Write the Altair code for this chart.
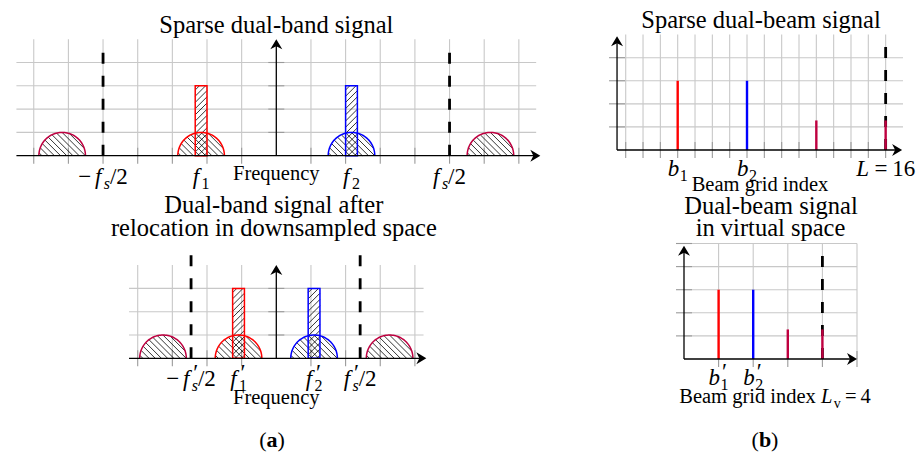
import math
import altair as alt
import pandas as pd

# ---------------- values (grid units) ----------------
# (a) upper panel: sparse dual-band signal
A1_GRID_X = [-7, -6, -5, -4, -3, -2, -1, 1, 2, 3, 4, 5, 6, 7]
A1_GRID_Y = [1, 2, 3, 4]
A1_BAND_CENTRES = [-2.17, 2.17]            # f1, f2
A1_BAND_SERIES = ["band 1", "band 2"]
A1_ALIAS_CENTRES = [-6.18, 6.18]
A1_NYQUIST = [-5.0, 5.0]                   # -fs/2, fs/2

# (a) lower panel: after relocation in downsampled space
A2_GRID_X = [-4, -3, -2, -1, 1, 2, 3, 4]
A2_GRID_Y = [1, 2, 3]
A2_BAND_CENTRES = [-1.09, 1.09]            # f1', f2'
A2_BAND_SERIES = ["band 1", "band 2"]
A2_ALIAS_CENTRES = [-3.27, 3.27]
A2_NYQUIST = [-2.46, 2.42]                 # -fs'/2, fs'/2

BAND_BAR_HEIGHT = 3.0
BAND_BAR_WIDTH = 0.34
LOBE_HEIGHT = 1.0

# (b) upper panel: sparse dual-beam signal, beam grid index 0..15
B1_GRID_X = list(range(16))
B1_GRID_Y = [1, 2, 3, 4]
B1_BEAM_INDEX = [3, 7, 11, 15]
B1_BEAM_AMPL = [3.0, 3.0, 1.28, 1.28]
B1_BEAM_SERIES = ["band 1", "band 2", "alias", "alias"]
B1_L = 15

# (b) lower panel: dual-beam signal in virtual space, L_v = 4
B2_GRID_X = [1, 2, 3, 4, 5]
B2_GRID_Y = [1, 2, 3, 4, 5]
B2_BEAM_INDEX = [1, 2, 3, 4]
B2_BEAM_AMPL = [3.0, 3.0, 1.28, 1.28]
B2_BEAM_SERIES = ["band 1", "band 2", "alias", "alias"]
B2_LV = 4

# ---------------- styles ----------------
SERIES_COLOUR = {"band 1": "#FF0000", "band 2": "#0000FF", "alias": "#BF0040"}
GRID_C = "#C8C8C8"
TICK_C = "#9A9A9A"
FONT = "Liberation Serif"
DASH = [11, 12]
HATCH_STEP = 6.2  # px
ARROW = "M0,0 L-2,-1.2 L-1.4,0 L-2,1.2 Z"
TITLE = 24.5
AX = 20.5
MATH = 23

# panel frames: width/height in px, origin of grid units and px per unit
GEOM = {
    "a1": dict(W=560, H=190, x0=276.3, sx=34.65, y0=155.7, sy=23.3),
    "a2": dict(W=560, H=267, x0=276.3, sx=34.65, y0=168.3, sy=23.3),
    "b1": dict(W=356, H=190, x0=65.7, sx=17.33, y0=150.0, sy=23.08),
    "b2": dict(W=356, H=267, x0=124.0, sx=34.6, y0=169.0, sy=23.1),
}
RIGHT_COL = 560  # px where the (b) column starts

CW = {
    "r": {"−": 0.72, "/": 0.278, "=": 0.564, "(": 0.333, ")": 0.333, "′": 0.3,
          "v": 0.5, "B": 0.667, "e": 0.444, "a": 0.444, "m": 0.778, " ": 0.25,
          "g": 0.5, "r": 0.333, "i": 0.278, "d": 0.5, "n": 0.5, "x": 0.5},
    "i": {"f": 0.36, "s": 0.389, "b": 0.5, "L": 0.6},
    "b": {"a": 0.5, "b": 0.556},
}


def tw(t, st):
    return sum(CW[st].get(c, 0.5) for c in t)


class Panel:
    def __init__(self, g, xoff=0):
        self.g = g
        self.xoff = xoff
        self.rules, self.hatch, self.lobes, self.bars = [], [], [], []
        self.sticks, self.dash, self.axes, self.arrows = [], [], [], []
        self.texts, self.ctexts = [], []
        self.nlobe = 0

    def du(self, px):
        return px / self.g["sx"]

    def dv(self, px):
        return px / self.g["sy"]

    def ux(self, px_abs):
        return (px_abs - self.xoff - self.g["x0"]) / self.g["sx"]

    def vy(self, py):
        return (self.g["y0"] - py) / self.g["sy"]

    def px(self, u):
        return self.xoff + self.g["x0"] + self.g["sx"] * u


def grid(p, xs, ys, x_lo, x_hi, top, yaxis_x):
    for x in xs:
        p.rules.append(dict(x=x, x2=x, y=0, y2=top, c=GRID_C, w=1.1))
    for y in ys:
        p.rules.append(dict(x=x_lo, x2=x_hi, y=y, y2=y, c=GRID_C, w=1.1))
    t, tu = p.dv(8), p.du(8)
    for x in xs:
        p.rules.append(dict(x=x, x2=x, y=-t, y2=t, c=TICK_C, w=1.1))
    for y in ys:
        p.rules.append(dict(x=yaxis_x - tu, x2=yaxis_x + tu, y=y, y2=y, c=TICK_C, w=1.1))


def axes(p, x_lo, x_tip, y_tip, yaxis_x):
    p.axes.append(dict(x=x_lo, x2=x_tip - p.du(3), y=0, y2=0))
    p.axes.append(dict(x=yaxis_x, x2=yaxis_x, y=0, y2=y_tip - p.dv(3)))
    p.arrows.append(dict(x=x_tip, y=0, a=0))
    p.arrows.append(dict(x=yaxis_x, y=y_tip, a=270))


def lobe(p, centre, series):
    r = p.g["sy"] * LOBE_HEIGHT          # radius in px (circular on screen)
    hw = r / p.g["sx"]
    p.nlobe += 1
    for i in range(61):
        th = math.pi * i / 60
        p.lobes.append(dict(x=centre + hw * math.cos(th), y=LOBE_HEIGHT * math.sin(th),
                            id=p.nlobe, i=i, c=SERIES_COLOUR[series]))
    # "\" hatching: in px, Y = d - X
    d = -r + HATCH_STEP * 0.5
    while d < r * math.sqrt(2):
        s = math.sqrt(max(2 * r * r - d * d, 0))
        X1 = (d - s) / 2
        X2 = d if d <= r else (d + s) / 2
        if X2 > X1:
            p.hatch.append(dict(x=centre + p.du(X1), x2=centre + p.du(X2),
                                y=p.dv(d - X1), y2=p.dv(d - X2)))
        d += HATCH_STEP


def bar(p, centre, series):
    xa, xb = centre - BAND_BAR_WIDTH / 2, centre + BAND_BAR_WIDTH / 2
    p.bars.append(dict(x=xa, x2=xb, y=0, y2=BAND_BAR_HEIGHT, c=SERIES_COLOUR[series]))
    W = (xb - xa) * p.g["sx"]
    H = BAND_BAR_HEIGHT * p.g["sy"]
    d = -W + HATCH_STEP * 0.5
    while d < H:
        Xa, Xb = max(0.0, -d), min(W, H - d)
        if Xb > Xa:
            p.hatch.append(dict(x=xa + p.du(Xa), x2=xa + p.du(Xb),
                                y=p.dv(Xa + d), y2=p.dv(Xb + d)))
        d += HATCH_STEP


def label(p, u, base_py, pieces, size=MATH):
    sub = round(size * 0.7)
    x, items = 0.0, []
    for k, (t, st, role) in enumerate(pieces):
        if role == "sp":
            x += float(t) * size
            continue
        fs = size if role == "n" else sub
        w = tw(t, st) * fs
        if role == "n":
            items.append((x, 0, t, fs, st))
            x += w
        elif role == "s":
            items.append((x + 0.5, 5, t, fs, st))
            x += w + 0.5
        elif role == "p":
            items.append((x + 2.0, -6, t, size, st))
            nxt = pieces[k + 1][2] if k + 1 < len(pieces) else None
            if nxt != "s":
                x += tw(t, st) * size + 2.0
    left = p.px(u) - x / 2
    for dx, dy, t, fs, st in items:
        p.texts.append(dict(x=p.ux(left + dx), y=p.vy(base_py + dy), t=t, s=fs, st=st))


def ctext(p, u, base_py, t, size):
    p.ctexts.append(dict(x=u, y=p.vy(base_py), t=t, s=size))


def build(p):
    g = p.g
    xs = alt.Scale(domain=[-g["x0"] / g["sx"], (g["W"] - g["x0"]) / g["sx"]], nice=False, zero=False)
    ys = alt.Scale(domain=[(g["y0"] - g["H"]) / g["sy"], g["y0"] / g["sy"]], nice=False, zero=False)

    def X(f):
        return alt.X(f, type="quantitative", scale=xs, axis=None)

    def Y(f):
        return alt.Y(f, type="quantitative", scale=ys, axis=None)

    L = []
    L.append(alt.Chart(pd.DataFrame(p.rules)).mark_rule(strokeCap="butt").encode(
        x=X("x"), x2="x2", y=Y("y"), y2="y2",
        color=alt.Color("c:N", scale=None), strokeWidth=alt.StrokeWidth("w:Q", scale=None)))
    if p.hatch:
        L.append(alt.Chart(pd.DataFrame(p.hatch)).mark_rule(color="black", strokeWidth=0.8).encode(
            x=X("x"), x2="x2", y=Y("y"), y2="y2"))
    if p.bars:
        L.append(alt.Chart(pd.DataFrame(p.bars)).mark_rect(fillOpacity=0, strokeWidth=1.5).encode(
            x=X("x"), x2="x2", y=Y("y"), y2="y2", stroke=alt.Stroke("c:N", scale=None)))
    if p.lobes:
        L.append(alt.Chart(pd.DataFrame(p.lobes)).mark_line(strokeWidth=1.5).encode(
            x=X("x"), y=Y("y"), detail="id:N", order="i:Q", color=alt.Color("c:N", scale=None)))
    L.append(alt.Chart(pd.DataFrame(p.dash)).mark_rule(color="black", strokeWidth=2.8,
                                                      strokeDash=DASH, strokeCap="butt").encode(
        x=X("x"), y=Y("y"), y2="y2"))
    if p.sticks:
        L.append(alt.Chart(pd.DataFrame(p.sticks)).mark_rule(strokeWidth=2.4, strokeCap="butt").encode(
            x=X("x"), y=Y("y"), y2="y2", color=alt.Color("c:N", scale=None)))
    L.append(alt.Chart(pd.DataFrame(p.axes)).mark_rule(color="black", strokeWidth=1.3).encode(
        x=X("x"), x2="x2", y=Y("y"), y2="y2"))
    L.append(alt.Chart(pd.DataFrame(p.arrows)).mark_point(
        shape=ARROW, filled=True, size=100, color="black", opacity=1, strokeWidth=0).encode(
        x=X("x"), y=Y("y"), angle=alt.Angle("a:Q", scale=None)))
    tdf = pd.DataFrame(p.texts)
    for st in ["r", "i", "b"]:
        sub = tdf[tdf["st"] == st] if len(tdf) else tdf
        if len(sub) == 0:
            continue
        kw = dict(align="left", baseline="alphabetic", font=FONT, color="black")
        if st == "i":
            kw["fontStyle"] = "italic"
        if st == "b":
            kw["fontWeight"] = "bold"
        L.append(alt.Chart(sub).mark_text(**kw).encode(
            x=X("x"), y=Y("y"), text="t:N", size=alt.Size("s:Q", scale=None)))
    if p.ctexts:
        L.append(alt.Chart(pd.DataFrame(p.ctexts)).mark_text(
            align="center", baseline="alphabetic", font=FONT, color="black").encode(
            x=X("x"), y=Y("y"), text="t:N", size=alt.Size("s:Q", scale=None)))
    return alt.layer(*L).properties(width=g["W"], height=g["H"])


# ---- (a) upper
a1 = Panel(GEOM["a1"])
grid(a1, A1_GRID_X, A1_GRID_Y, -7.5, 7.5, 5, 0)
for c in A1_ALIAS_CENTRES:
    lobe(a1, c, "alias")
for c, s in zip(A1_BAND_CENTRES, A1_BAND_SERIES):
    lobe(a1, c, s)
    bar(a1, c, s)
for n in A1_NYQUIST:
    a1.dash.append(dict(x=n, y=0, y2=4.75))
axes(a1, -7.5, 7.62, 5.0, 0)
label(a1, A1_NYQUIST[0], 184, [("−", "r", "n"), ("f", "i", "n"), ("s", "i", "s"), ("/2", "r", "n")])
label(a1, A1_BAND_CENTRES[0], 184, [("f", "i", "n"), ("1", "r", "s")])
label(a1, A1_BAND_CENTRES[1], 184, [("f", "i", "n"), ("2", "r", "s")])
label(a1, A1_NYQUIST[1], 184, [("f", "i", "n"), ("s", "i", "s"), ("/2", "r", "n")])
ctext(a1, 0, 180, "Frequency", AX)
ctext(a1, 0, 33.3, "Sparse dual-band signal", TITLE)

# ---- (a) lower
a2 = Panel(GEOM["a2"])
grid(a2, A2_GRID_X, A2_GRID_Y, -4.25, 4.25, 4, 0)
for c in A2_ALIAS_CENTRES:
    lobe(a2, c, "alias")
for c, s in zip(A2_BAND_CENTRES, A2_BAND_SERIES):
    lobe(a2, c, s)
    bar(a2, c, s)
for n in A2_NYQUIST:
    a2.dash.append(dict(x=n, y=0, y2=4.7))
axes(a2, -4.25, 4.33, 4.0, 0)
label(a2, A2_NYQUIST[0], 196, [("−", "r", "n"), ("f", "i", "n"), ("′", "r", "p"), ("s", "i", "s"), ("/2", "r", "n")])
label(a2, A2_BAND_CENTRES[0], 196, [("f", "i", "n"), ("′", "r", "p"), ("1", "r", "s")])
label(a2, A2_BAND_CENTRES[1], 196, [("f", "i", "n"), ("′", "r", "p"), ("2", "r", "s")])
label(a2, A2_NYQUIST[1], 196, [("f", "i", "n"), ("′", "r", "p"), ("s", "i", "s"), ("/2", "r", "n")])
ctext(a2, 0, 214.3, "Frequency", AX)
ctext(a2, -0.07, 23.3, "Dual-band signal after", TITLE)
ctext(a2, -0.07, 45.7, "relocation in downsampled space", TITLE)
label(a2, a2.ux(272), 257, [("(", "r", "n"), ("a", "b", "n"), (")", "r", "n")], size=22)

# ---- (b) upper
b1 = Panel(GEOM["b1"], RIGHT_COL)
grid(b1, B1_GRID_X, B1_GRID_Y, -0.5, 16, 5, -0.5)
b1.dash.append(dict(x=B1_L, y=0, y2=4.74))
for i, a, s in zip(B1_BEAM_INDEX, B1_BEAM_AMPL, B1_BEAM_SERIES):
    b1.sticks.append(dict(x=i, y=0, y2=a, c=SERIES_COLOUR[s]))
axes(b1, -0.5, 15.95, 4.93, -0.5)
label(b1, B1_BEAM_INDEX[0], 175.7, [("b", "i", "n"), ("1", "r", "s")])
label(b1, B1_BEAM_INDEX[1], 175.7, [("b", "i", "n"), ("2", "r", "s")])
label(b1, B1_L, 176, [("L", "i", "n"), ("0.2", "r", "sp"), ("=", "r", "n"), ("0.2", "r", "sp"), ("16", "r", "n")])
ctext(b1, b1.ux(760), 190.5, "Beam grid index", AX)
ctext(b1, b1.ux(761), 28.3, "Sparse dual-beam signal", TITLE)

# ---- (b) lower
b2 = Panel(GEOM["b2"], RIGHT_COL)
grid(b2, B2_GRID_X, B2_GRID_Y, 0, 5, 5, 0)
b2.dash.append(dict(x=B2_LV, y=0, y2=4.7))
for i, a, s in zip(B2_BEAM_INDEX, B2_BEAM_AMPL, B2_BEAM_SERIES):
    b2.sticks.append(dict(x=i, y=0, y2=a, c=SERIES_COLOUR[s]))
axes(b2, 0, 5.0, 4.9, 0)
label(b2, B2_BEAM_INDEX[0], 195, [("b", "i", "n"), ("′", "r", "p"), ("1", "r", "s")])
label(b2, B2_BEAM_INDEX[1], 195, [("b", "i", "n"), ("′", "r", "p"), ("2", "r", "s")])
label(b2, b2.ux(775), 213.3,
      [("Beam grid index", "r", "n"), ("0.25", "r", "sp"), ("L", "i", "n"), ("v", "r", "s"),
       ("0.2", "r", "sp"), ("=", "r", "n"), ("0.2", "r", "sp"), ("4", "r", "n")], size=AX)
ctext(b2, b2.ux(771), 24.3, "Dual-beam signal", TITLE)
ctext(b2, b2.ux(770.5), 45.7, "in virtual space", TITLE)
label(b2, b2.ux(765), 257, [("(", "r", "n"), ("b", "b", "n"), (")", "r", "n")], size=22)

chart = alt.concat(build(a1), build(b1), build(a2), build(b2), columns=2,
                   spacing=0, bounds="flush").resolve_scale(
    x="independent", y="independent"
).properties(
    padding={"left": 0, "top": 0, "right": 0, "bottom": 0}
).configure_view(stroke=None)

chart.save("out.html", embed_options={"renderer": "svg", "actions": False})
